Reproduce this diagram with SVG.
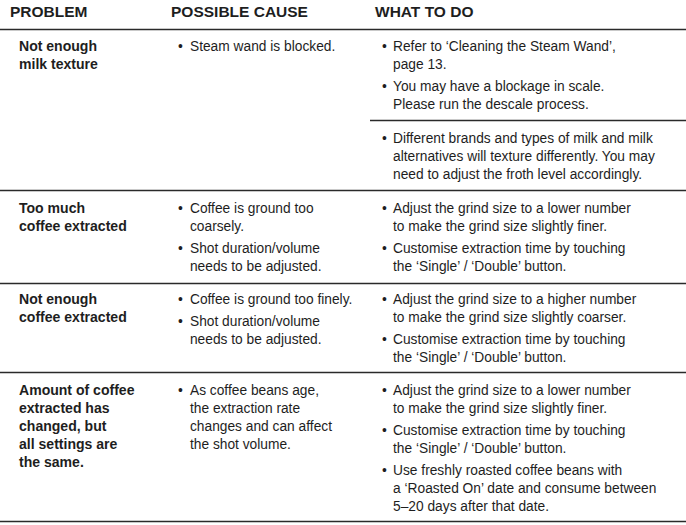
<svg xmlns="http://www.w3.org/2000/svg" width="686" height="525" viewBox="0 0 686 525">
<style>
text{font-family:"Liberation Sans",Arial,sans-serif;font-size:14.5px;fill:#1e1e1e}
.h{font-weight:bold;font-size:15.5px}
.b{font-weight:bold}
line{stroke:#2a2a2a;stroke-width:1.5}
</style>
<rect width="686" height="525" fill="#fff"/>
<g id="rules">
<line x1="0" y1="29.5" x2="686" y2="29.5"/>
<line x1="370" y1="120.5" x2="686" y2="120.5"/>
<line x1="0" y1="190.5" x2="686" y2="190.5"/>
<line x1="0" y1="283.5" x2="686" y2="283.5"/>
<line x1="0" y1="372.5" x2="686" y2="372.5"/>
<line x1="0" y1="521.5" x2="686" y2="521.5"/>
</g>
<g id="header">
<text class="h" x="10" y="17">PROBLEM</text>
<text class="h" x="171" y="17">POSSIBLE CAUSE</text>
<text class="h" x="375" y="17">WHAT TO DO</text>
</g>
<g id="problem" transform="translate(19,0) scale(0.97,1)">
<text class="b" x="0" y="51">Not enough</text>
<text class="b" x="0" y="69">milk texture</text>
<text class="b" x="0" y="213">Too much</text>
<text class="b" x="0" y="231">coffee extracted</text>
<text class="b" x="0" y="304">Not enough</text>
<text class="b" x="0" y="322">coffee extracted</text>
<text class="b" x="0" y="395">Amount of coffee</text>
<text class="b" x="0" y="413">extracted has</text>
<text class="b" x="0" y="431">changed, but</text>
<text class="b" x="0" y="449">all settings are</text>
<text class="b" x="0" y="467">the same.</text>
</g>
<g id="cause" transform="translate(178,0) scale(0.95,1)">
<text x="0" y="51">•</text><text x="12.6" y="51">Steam wand is blocked.</text>
<text x="0" y="213">•</text><text x="12.6" y="213">Coffee is ground too</text>
<text x="12.6" y="231">coarsely.</text>
<text x="0" y="253">•</text><text x="12.6" y="253">Shot duration/volume</text>
<text x="12.6" y="271">needs to be adjusted.</text>
<text x="0" y="304">•</text><text x="12.6" y="304">Coffee is ground too finely.</text>
<text x="0" y="326">•</text><text x="12.6" y="326">Shot duration/volume</text>
<text x="12.6" y="344">needs to be adjusted.</text>
<text x="0" y="395">•</text><text x="12.6" y="395">As coffee beans age,</text>
<text x="12.6" y="413">the extraction rate</text>
<text x="12.6" y="431">changes and can affect</text>
<text x="12.6" y="449">the shot volume.</text>
</g>
<g id="whattodo" transform="translate(382,0) scale(0.95,1)">
<text x="0" y="51">•</text><text x="11.6" y="51">Refer to ‘Cleaning the Steam Wand’,</text>
<text x="11.6" y="69">page 13.</text>
<text x="0" y="91">•</text><text x="11.6" y="91">You may have a blockage in scale.</text>
<text x="11.6" y="109">Please run the descale process.</text>
<text x="0" y="143">•</text><text x="11.6" y="143">Different brands and types of milk and milk</text>
<text x="11.6" y="161">alternatives will texture differently. You may</text>
<text x="11.6" y="179">need to adjust the froth level accordingly.</text>
<text x="0" y="213">•</text><text x="11.6" y="213">Adjust the grind size to a lower number</text>
<text x="11.6" y="231">to make the grind size slightly finer.</text>
<text x="0" y="253">•</text><text x="11.6" y="253">Customise extraction time by touching</text>
<text x="11.6" y="271">the ‘Single’ / ‘Double’ button.</text>
<text x="0" y="304">•</text><text x="11.6" y="304">Adjust the grind size to a higher number</text>
<text x="11.6" y="322">to make the grind size slightly coarser.</text>
<text x="0" y="344">•</text><text x="11.6" y="344">Customise extraction time by touching</text>
<text x="11.6" y="362">the ‘Single’ / ‘Double’ button.</text>
<text x="0" y="395">•</text><text x="11.6" y="395">Adjust the grind size to a lower number</text>
<text x="11.6" y="413">to make the grind size slightly finer.</text>
<text x="0" y="435">•</text><text x="11.6" y="435">Customise extraction time by touching</text>
<text x="11.6" y="453">the ‘Single’ / ‘Double’ button.</text>
<text x="0" y="475">•</text><text x="11.6" y="475">Use freshly roasted coffee beans with</text>
<text x="11.6" y="493">a ‘Roasted On’ date and consume between</text>
<text x="11.6" y="511">5–20 days after that date.</text>
</g>
</svg>
